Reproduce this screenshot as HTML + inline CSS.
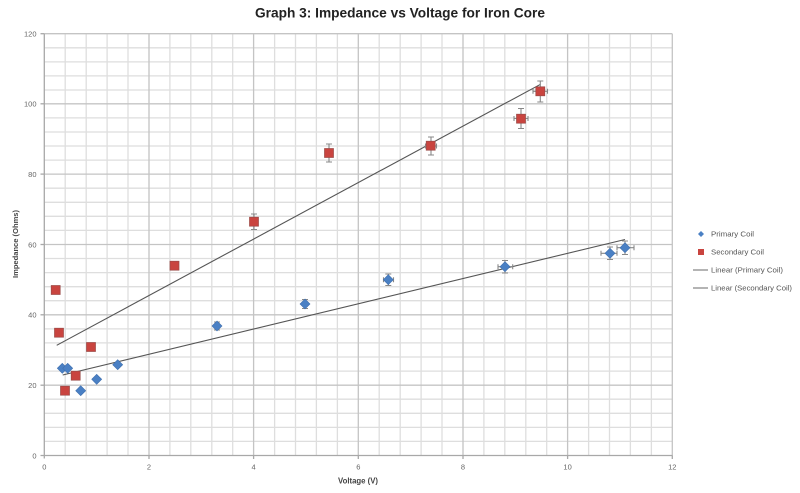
<!DOCTYPE html>
<html>
<head>
<meta charset="utf-8">
<style>
html,body{margin:0;padding:0;background:#fff;}
svg{display:block;}
text{font-family:"Liberation Sans",sans-serif;}
</style>
</head>
<body>
<svg width="800" height="493" viewBox="0 0 800 493" xmlns="http://www.w3.org/2000/svg">
<rect x="0" y="0" width="800" height="493" fill="#fff"/>
<!-- minor grid -->
<g stroke="#dedede" stroke-width="1.3">
<line x1="65.2" y1="33.7" x2="65.2" y2="455.5"/>
<line x1="86.2" y1="33.7" x2="86.2" y2="455.5"/>
<line x1="107.1" y1="33.7" x2="107.1" y2="455.5"/>
<line x1="128.0" y1="33.7" x2="128.0" y2="455.5"/>
<line x1="169.9" y1="33.7" x2="169.9" y2="455.5"/>
<line x1="190.8" y1="33.7" x2="190.8" y2="455.5"/>
<line x1="211.8" y1="33.7" x2="211.8" y2="455.5"/>
<line x1="232.7" y1="33.7" x2="232.7" y2="455.5"/>
<line x1="274.6" y1="33.7" x2="274.6" y2="455.5"/>
<line x1="295.5" y1="33.7" x2="295.5" y2="455.5"/>
<line x1="316.4" y1="33.7" x2="316.4" y2="455.5"/>
<line x1="337.4" y1="33.7" x2="337.4" y2="455.5"/>
<line x1="379.2" y1="33.7" x2="379.2" y2="455.5"/>
<line x1="400.2" y1="33.7" x2="400.2" y2="455.5"/>
<line x1="421.1" y1="33.7" x2="421.1" y2="455.5"/>
<line x1="442.0" y1="33.7" x2="442.0" y2="455.5"/>
<line x1="483.9" y1="33.7" x2="483.9" y2="455.5"/>
<line x1="504.8" y1="33.7" x2="504.8" y2="455.5"/>
<line x1="525.8" y1="33.7" x2="525.8" y2="455.5"/>
<line x1="546.7" y1="33.7" x2="546.7" y2="455.5"/>
<line x1="588.6" y1="33.7" x2="588.6" y2="455.5"/>
<line x1="609.5" y1="33.7" x2="609.5" y2="455.5"/>
<line x1="630.4" y1="33.7" x2="630.4" y2="455.5"/>
<line x1="651.4" y1="33.7" x2="651.4" y2="455.5"/>
</g>
<g stroke="#dedede" stroke-width="1.3">
<line x1="44.3" y1="47.8" x2="672.3" y2="47.8"/>
<line x1="44.3" y1="61.9" x2="672.3" y2="61.9"/>
<line x1="44.3" y1="75.9" x2="672.3" y2="75.9"/>
<line x1="44.3" y1="90.0" x2="672.3" y2="90.0"/>
<line x1="44.3" y1="117.9" x2="672.3" y2="117.9"/>
<line x1="44.3" y1="132.0" x2="672.3" y2="132.0"/>
<line x1="44.3" y1="146.0" x2="672.3" y2="146.0"/>
<line x1="44.3" y1="160.1" x2="672.3" y2="160.1"/>
<line x1="44.3" y1="188.2" x2="672.3" y2="188.2"/>
<line x1="44.3" y1="202.3" x2="672.3" y2="202.3"/>
<line x1="44.3" y1="216.3" x2="672.3" y2="216.3"/>
<line x1="44.3" y1="230.4" x2="672.3" y2="230.4"/>
<line x1="44.3" y1="258.5" x2="672.3" y2="258.5"/>
<line x1="44.3" y1="272.6" x2="672.3" y2="272.6"/>
<line x1="44.3" y1="286.7" x2="672.3" y2="286.7"/>
<line x1="44.3" y1="300.7" x2="672.3" y2="300.7"/>
<line x1="44.3" y1="328.9" x2="672.3" y2="328.9"/>
<line x1="44.3" y1="342.9" x2="672.3" y2="342.9"/>
<line x1="44.3" y1="357.0" x2="672.3" y2="357.0"/>
<line x1="44.3" y1="371.1" x2="672.3" y2="371.1"/>
<line x1="44.3" y1="399.2" x2="672.3" y2="399.2"/>
<line x1="44.3" y1="413.3" x2="672.3" y2="413.3"/>
<line x1="44.3" y1="427.4" x2="672.3" y2="427.4"/>
<line x1="44.3" y1="441.4" x2="672.3" y2="441.4"/>
</g>
<!-- major grid -->
<g stroke="#c4c4c4" stroke-width="1.3">
<line x1="149.0" y1="33.7" x2="149.0" y2="455.5"/>
<line x1="253.6" y1="33.7" x2="253.6" y2="455.5"/>
<line x1="358.3" y1="33.7" x2="358.3" y2="455.5"/>
<line x1="463.0" y1="33.7" x2="463.0" y2="455.5"/>
<line x1="567.6" y1="33.7" x2="567.6" y2="455.5"/>
<line x1="672.3" y1="33.7" x2="672.3" y2="455.5"/>
<line x1="44.3" y1="33.7" x2="672.3" y2="33.7"/>
<line x1="44.3" y1="103.8" x2="672.3" y2="103.8"/>
<line x1="44.3" y1="174.1" x2="672.3" y2="174.1"/>
<line x1="44.3" y1="244.5" x2="672.3" y2="244.5"/>
<line x1="44.3" y1="314.8" x2="672.3" y2="314.8"/>
<line x1="44.3" y1="385.2" x2="672.3" y2="385.2"/>
</g>
<!-- axes -->
<g stroke="#a8a8a8" stroke-width="1.3">
<line x1="44.3" y1="33.7" x2="44.3" y2="458.5"/>
<line x1="40.5" y1="455.5" x2="672.3" y2="455.5"/>
<line x1="40.5" y1="33.7" x2="44.3" y2="33.7"/>
<line x1="40.5" y1="103.8" x2="44.3" y2="103.8"/>
<line x1="40.5" y1="174.1" x2="44.3" y2="174.1"/>
<line x1="40.5" y1="244.5" x2="44.3" y2="244.5"/>
<line x1="40.5" y1="314.8" x2="44.3" y2="314.8"/>
<line x1="40.5" y1="385.2" x2="44.3" y2="385.2"/>
<line x1="149.0" y1="455.5" x2="149.0" y2="459"/>
<line x1="253.6" y1="455.5" x2="253.6" y2="459"/>
<line x1="358.3" y1="455.5" x2="358.3" y2="459"/>
<line x1="463.0" y1="455.5" x2="463.0" y2="459"/>
<line x1="567.6" y1="455.5" x2="567.6" y2="459"/>
<line x1="672.3" y1="455.5" x2="672.3" y2="459"/>
</g>
<!-- tick labels -->
<g fill="#666" font-size="7.5" text-anchor="end">
<text x="36.5" y="36.5">120</text>
<text x="36.5" y="106.6">100</text>
<text x="36.5" y="176.9">80</text>
<text x="36.5" y="247.3">60</text>
<text x="36.5" y="317.6">40</text>
<text x="36.5" y="388">20</text>
<text x="36.5" y="458.3">0</text>
</g>
<g fill="#666" font-size="7.5" text-anchor="middle">
<text x="44.3" y="469.5">0</text>
<text x="149.0" y="469.5">2</text>
<text x="253.6" y="469.5">4</text>
<text x="358.3" y="469.5">6</text>
<text x="463.0" y="469.5">8</text>
<text x="567.6" y="469.5">10</text>
<text x="672.3" y="469.5">12</text>
</g>
<!-- title & axis titles -->
<text x="255" y="17.5" font-size="14" font-weight="bold" fill="#222" textLength="290" lengthAdjust="spacingAndGlyphs">Graph 3: Impedance vs Voltage for Iron Core</text>
<text x="338" y="483.5" font-size="8" font-weight="bold" fill="#444" textLength="40" lengthAdjust="spacingAndGlyphs">Voltage (V)</text>
<text transform="translate(18,244) rotate(-90)" x="0" y="0" font-size="7.5" font-weight="bold" fill="#444" text-anchor="middle" textLength="68" lengthAdjust="spacingAndGlyphs">Impedance (Ohms)</text>

<!-- trend lines -->
<line x1="56.7" y1="345.3" x2="540.5" y2="84.3" stroke="#555" stroke-width="1.1"/>
<line x1="62.7" y1="375" x2="625" y2="239.5" stroke="#555" stroke-width="1.1"/>

<!-- error bars -->
<g stroke="#888" stroke-width="1.1" fill="none">
<!-- secondary -->
<path d="M175,261.5V270M172,261.5H178M172,270H178"/>
<path d="M254,214V229.5M251,214H257M251,229.5H257"/>
<path d="M329,144V162M326,144H332M326,162H332M325,153H333M325,150.5V155.5M333,150.5V155.5"/>
<path d="M431,137V155M428,137H434M428,155H434M425.5,146H436.5M425.5,143.5V148.5M436.5,143.5V148.5"/>
<path d="M521,108.5V128.5M518,108.5H524M518,128.5H524M514,118.5H528M514,116V121M528,116V121"/>
<path d="M540.3,81V102M537.3,81H543.3M537.3,102H543.3M533,91.3H547.5M533,88.8V93.8M547.5,88.8V93.8"/>
<!-- primary -->
<path d="M217,322V330M214,322H220M214,330H220"/>
<path d="M305,299.5V308.5M302,299.5H308M302,308.5H308M301,304H309"/>
<path d="M388.3,274V285.5M385.3,274H391.3M385.3,285.5H391.3M383.5,279.7H393.5M383.5,277.2V282.2M393.5,277.2V282.2"/>
<path d="M505,260.5V273M502,260.5H508M502,273H508M498,266.7H512.7M498,264.2V269.2M512.7,264.2V269.2"/>
<path d="M610,247V259.5M607,247H613M607,259.5H613M601,253.3H617M601,250.8V255.8M617,250.8V255.8"/>
<path d="M625,241V254.5M622,241H628M622,254.5H628M617,247.7H634M617,245.2V250.2M634,245.2V250.2"/>
</g>

<!-- primary diamonds -->
<g fill="#4a80c4" stroke="#3f6fae" stroke-width="0.6">
<path d="M62.3,363.3l5,5l-5,5l-5,-5z"/>
<path d="M67.7,363.3l5,5l-5,5l-5,-5z"/>
<path d="M80.7,385.7l5,5l-5,5l-5,-5z"/>
<path d="M96.7,374.3l5,5l-5,5l-5,-5z"/>
<path d="M117.7,359.7l5,5l-5,5l-5,-5z"/>
<path d="M217,321l5,5l-5,5l-5,-5z"/>
<path d="M305,299l5,5l-5,5l-5,-5z"/>
<path d="M388.3,274.7l5,5l-5,5l-5,-5z"/>
<path d="M505,261.7l5,5l-5,5l-5,-5z"/>
<path d="M610,248.3l5,5l-5,5l-5,-5z"/>
<path d="M625,242.7l5,5l-5,5l-5,-5z"/>
</g>
<!-- secondary squares -->
<g fill="#c9443f" stroke="#9a4a48" stroke-width="0.7">
<rect x="51.2" y="285.5" width="9" height="9"/>
<rect x="54.5" y="328.2" width="9" height="9"/>
<rect x="60.5" y="386.2" width="9" height="9"/>
<rect x="71.2" y="371.2" width="9" height="9"/>
<rect x="86.5" y="342.5" width="9" height="9"/>
<rect x="170" y="261.2" width="9" height="9"/>
<rect x="249.5" y="217.2" width="9" height="9"/>
<rect x="324.5" y="148.5" width="9" height="9"/>
<rect x="426.2" y="141.2" width="9" height="9"/>
<rect x="516.5" y="114.2" width="9" height="9"/>
<rect x="535.8" y="86.8" width="9" height="9"/>
</g>

<!-- legend -->
<path d="M701,231l3,3l-3,3l-3,-3z" fill="#4a80c4"/>
<rect x="698" y="249" width="6" height="6" fill="#c9443f"/>
<line x1="693" y1="270" x2="708" y2="270" stroke="#777" stroke-width="1.1"/>
<line x1="693" y1="288" x2="708" y2="288" stroke="#777" stroke-width="1.1"/>
<g fill="#555" font-size="7.5">
<text x="711" y="236.7" textLength="43" lengthAdjust="spacingAndGlyphs">Primary Coil</text>
<text x="711" y="254.7" textLength="53" lengthAdjust="spacingAndGlyphs">Secondary Coil</text>
<text x="711" y="272.7" textLength="72" lengthAdjust="spacingAndGlyphs">Linear (Primary Coil)</text>
<text x="711" y="290.7" textLength="81" lengthAdjust="spacingAndGlyphs">Linear (Secondary Coil)</text>
</g>
</svg>
</body>
</html>
